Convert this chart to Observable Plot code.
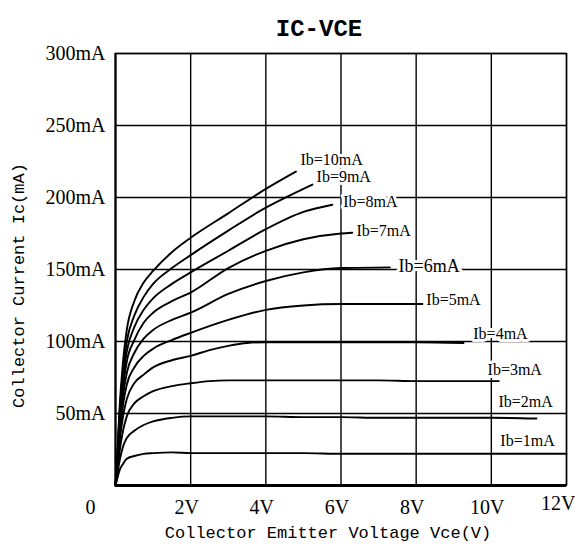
<!DOCTYPE html>
<html>
<head>
<meta charset="utf-8">
<script src="https://cdn.jsdelivr.net/npm/d3@7"></script>
<script src="https://cdn.jsdelivr.net/npm/@observablehq/plot@0.6"></script>
<style>
  html, body { margin: 0; padding: 0; background: white; }
</style>
</head>
<body>
<div id="chart"></div>
<script>
// ---- Data ----
const titleText = "IC-VCE";
const xTitle = "Collector Emitter Voltage Vce(V)";
const yTitle = "Collector Current Ic(mA)";
const xTicks = [2, 4, 6, 8, 10];
const xLastTick = [12];
const yTicks = [50, 100, 150, 200, 250, 300];
const ibLevels = [1, 2, 3, 4, 5, 6, 7, 8, 9, 10];

const v1 = [0, 0.05, 0.1, 0.2, 0.3, 0.5, 0.75, 1, 1.5, 2, 3, 4, 5, 6, 7, 8, 9, 10, 11, 12];
const i1 = [0, 5, 10, 15, 18.5, 20.5, 22, 22.5, 23, 22.5, 22.5, 22.5, 22.5, 22, 22, 22, 22, 22, 22, 22];
const v2 = [0, 0.05, 0.1, 0.2, 0.3, 0.5, 0.75, 1, 1.5, 2, 3, 4, 5, 6, 7, 8, 9, 10, 11.2];
const i2 = [0, 8, 16, 27, 33, 38, 42, 44.5, 47, 48, 48, 48, 47.5, 47.5, 47, 47, 47, 47, 46.5];
const v3 = [0, 0.05, 0.1, 0.2, 0.3, 0.5, 0.75, 1, 1.5, 2, 2.5, 3, 4, 5, 6, 7, 8, 9, 10.2];
const i3 = [0, 10, 22, 38, 48, 57, 62, 65.5, 69, 71, 72.5, 73, 73, 73, 73, 73, 72.5, 72.5, 72.5];
const v4 = [0, 0.05, 0.1, 0.2, 0.3, 0.5, 0.75, 1, 1.5, 2, 2.5, 3, 3.5, 4, 5, 6, 7, 8, 9.26];
const i4 = [0, 12, 28, 48, 60, 71, 77, 82, 87, 90, 94, 97, 99, 99.5, 99.5, 99.5, 99.5, 99.5, 99];
const v5 = [0, 0.05, 0.1, 0.2, 0.3, 0.5, 0.75, 1, 1.5, 2, 3, 4, 5, 6, 7, 8.17];
const i5 = [0, 14, 32, 56, 70, 82, 90, 95, 101, 106, 115, 122, 125, 126, 126, 126];
const v6 = [0, 0.05, 0.1, 0.2, 0.3, 0.5, 0.75, 1, 1.5, 2, 3, 4, 5, 6, 7.3];
const i6 = [0, 16, 36, 62, 78, 92, 102, 108, 115, 120, 133, 142, 148, 151, 151.5];
const v7 = [0, 0.05, 0.1, 0.2, 0.3, 0.5, 0.75, 1, 1.5, 2, 3, 4, 5, 6, 6.3];
const i7 = [0, 18, 40, 68, 86, 101, 113, 120, 128, 134, 151, 163, 171, 175, 175.5];
const v8 = [0, 0.05, 0.1, 0.2, 0.3, 0.5, 0.75, 1, 1.5, 2, 3, 4, 5, 5.77];
const i8 = [0, 20, 44, 74, 93, 110, 122, 130, 140, 148, 163, 178, 190, 195];
const v9 = [0, 0.05, 0.1, 0.2, 0.3, 0.5, 0.75, 1, 1.5, 2, 3, 4, 4.6, 5.24];
const i9 = [0, 21, 47, 80, 100, 118, 131, 140, 151, 160, 177, 193, 201, 209];
const v10 = [0, 0.05, 0.1, 0.2, 0.3, 0.5, 0.75, 1, 1.5, 2, 3, 4, 4.8];
const i10 = [0, 22, 50, 86, 108, 128, 141, 149, 162, 172, 189, 206, 218];

// label anchor points (Vce, Ic) for each curve's "Ib=..." label
const labelV = [10.24, 10.19, 9.9, 9.52, 8.27, 7.53, 6.41, 6.06, 5.35, 4.92];
const labelI = [31, 57.8, 80, 105, 129, 152, 177, 197, 214.6, 226];

// ---- Build table ----
const vs = [v1, v2, v3, v4, v5, v6, v7, v8, v9, v10];
const is = [i1, i2, i3, i4, i5, i6, i7, i8, i9, i10];
const rows = [];
ibLevels.forEach((ib, k) => {
  vs[k].forEach((v, j) => rows.push({ib, v, ic: is[k][j]}));
});
const labels = ibLevels.map((ib, k) => ({text: `Ib=${ib}mA`, v: labelV[k], ic: labelI[k], big: ib === 6}));

const serif = "'Liberation Serif', 'DejaVu Serif', serif";
const mono = "'Liberation Mono', 'DejaVu Sans Mono', monospace";

const chart = Plot.plot({
  width: 575,
  height: 549,
  marginLeft: 115,
  marginRight: 9,
  marginTop: 53,
  marginBottom: 64,
  x: {domain: [0, 12]},
  y: {domain: [0, 300]},
  style: {fontFamily: serif, fontSize: "20px", background: "white", color: "black"},
  marks: [
    Plot.gridX(xTicks.concat(xLastTick), {stroke: "black", strokeOpacity: 1, strokeWidth: 1.4}),
    Plot.gridY(yTicks, {stroke: "black", strokeOpacity: 1, strokeWidth: 1.4}),
    Plot.frame({stroke: "black", strokeWidth: 1.4}),
    Plot.ruleY([0], {stroke: "black", strokeWidth: 3}),
    Plot.ruleX([0], {stroke: "black", strokeWidth: 2.2}),
    Plot.line(rows, {x: "v", y: "ic", z: "ib", curve: "monotone-x", stroke: "black", strokeWidth: 1.9}),
    Plot.text(labels, {
      x: "v", y: "ic", text: "text", textAnchor: "start",
      fontSize: d => d.big ? 18 : 16, fontFamily: serif,
      fill: "black", stroke: "white", strokeWidth: 6
    }),
    Plot.axisX({ticks: xTicks, tickFormat: d => d + "V", tickSize: 0, tickPadding: 14, label: null, fontSize: 20, dx: -4}),
    Plot.axisX({ticks: xLastTick, tickFormat: d => d + "V", tickSize: 0, tickPadding: 10, label: null, fontSize: 20, textAnchor: "end", dx: 9}),
    Plot.axisY({ticks: yTicks, tickFormat: d => d + "mA", tickSize: 0, tickPadding: 10, label: null, fontSize: 20}),
    Plot.text(["0"], {x: 0, y: 0, dx: -25, dy: 22, fontSize: 20, fontFamily: serif}),
    Plot.text([titleText], {frameAnchor: "top", dx: -22, dy: -35, fontSize: 24, fontWeight: "bold", fontFamily: mono}),
    Plot.text([xTitle], {frameAnchor: "bottom", dx: -13, dy: 52, fontSize: 17, fontFamily: mono}),
    Plot.text([yTitle], {frameAnchor: "left", textAnchor: "middle", rotate: -90, dx: -97, dy: 16, fontSize: 17, fontFamily: mono})
  ]
});
document.getElementById("chart").appendChild(chart);
</script>
</body>
</html>
